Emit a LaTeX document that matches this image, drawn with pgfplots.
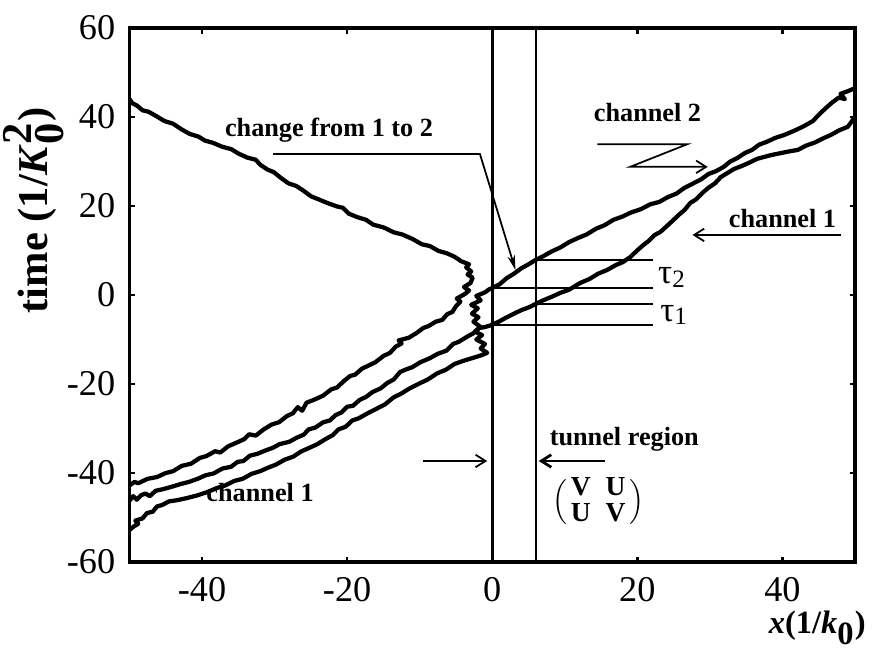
\documentclass[border=0pt]{standalone}
\usepackage{fontspec}
\setmainfont{Liberation Serif}
\usepackage{pgfplots}
\pgfplotsset{compat=1.18}
\usetikzlibrary{arrows.meta}

\begin{document}
\begin{tikzpicture}[x=1pt,y=1pt]
\useasboundingbox (-51.8,-37.2) rectangle (298.2,224.8);
\begin{axis}[
  at={(0,0)}, anchor=south west,
  scale only axis, width=290.2pt, height=213.6pt,
  xmin=-50, xmax=50, ymin=-60, ymax=60,
  clip=false,
  axis line style={line width=1.5pt},
  tick align=inside, major tick length=2.2pt,
  tick style={line width=1pt, black},
  xtick={-40,-20,0,20,40}, xticklabels={-40,-20,0,20,40},
  ytick={-60,-40,-20,0,20,40,60}, yticklabels={-60,-40,-20,0,20,40,60},
  tick label style={font=\fontsize{14.5}{16}\selectfont},
  xticklabel style={yshift=-2.5pt},
  yticklabel style={xshift=-2.2pt},
]
% tunnel region boundaries
\addplot[black, line width=1pt] coordinates {(0,-60) (0,60)};
\addplot[black, line width=1pt] coordinates {(6,-60) (6,60)};
% tau lines
\addplot[black, line width=0.7pt] coordinates {(6,7.9) (22.2,7.9)};
\addplot[black, line width=0.7pt] coordinates {(0,1.6) (22.2,1.6)};
\addplot[black, line width=0.7pt] coordinates {(6,-2.0) (22.2,-2.0)};
\addplot[black, line width=0.7pt] coordinates {(0,-6.7) (22.2,-6.7)};

% trajectory A (reflected)
\addplot[black, line width=1.7pt, line join=round] coordinates {
(-50,-42.8) (-49.3,-42.0) (-48.8,-42.3) (-47.5,-41.3) (-46.2,-40.9) (-45,-40.0) (-44,-39.6) (-42.8,-38.4) (-41.5,-37.9) (-40.3,-36.6) (-39.4,-36.2) (-38.2,-35.1) (-37.5,-35.4) (-36.4,-34.0) (-35,-33.0) (-34.2,-32.4) (-33.5,-31.3) (-32.6,-31.6) (-31.5,-30.2) (-30.4,-29.1) (-29.4,-28.6) (-28.3,-27.2) (-27.5,-26.6) (-26.8,-25.2) (-26.2,-26.0) (-25.6,-24.2) (-24.5,-23.5) (-23.3,-22.6) (-22.2,-21.2) (-21.4,-20.8) (-20.5,-19.4) (-19.6,-18.2) (-18.9,-17.9) (-18,-16.6) (-17,-15.8) (-16.1,-15.1) (-15,-13.7) (-14.1,-13.0) (-13.3,-11.6) (-12.5,-10.9) (-12.9,-10.2) (-11.5,-9.6) (-10.4,-8.5) (-9.5,-7.4) (-8.8,-7.0) (-7.8,-6.0) (-6.9,-5.6) (-6.2,-4.3) (-5.5,-3.8) (-5.0,-2.5) (-4.4,-1.5) (-4.9,-0.8) (-3.8,0.2) (-3.2,1.0) (-3.9,1.8) (-3.0,2.7) (-2.7,3.9) (-3.4,4.6) (-2.9,5.3) (-3.6,6.2) (-3.2,6.9) (-4.3,7.6) (-5.2,8.6) (-6.3,9.4) (-7.4,9.9) (-8.6,11.0) (-9.7,11.4) (-11.0,12.6) (-12.4,13.6) (-13.6,14.1) (-15.0,15.2) (-16.4,15.8) (-17.4,16.9) (-18.6,17.5) (-19.8,18.3) (-20.6,19.6) (-21.4,19.9) (-22.6,20.6) (-23.8,21.4) (-25.0,22.2) (-25.9,23.3) (-27.0,24.5) (-28.1,25.1) (-29.2,26.4) (-30.1,27.6) (-31.0,28.2) (-32.0,29.3) (-32.6,30.4) (-33.8,30.9) (-35.0,31.8) (-36.0,32.8) (-37.2,33.3) (-38.5,34.2) (-39.6,34.7) (-40.5,35.6) (-41.7,36.2) (-42.9,37.3) (-44.0,38.5) (-45.2,39.1) (-46.3,40.2) (-47.4,41.2) (-48.2,41.5) (-49.0,42.6) (-49.6,43.1) (-50,44.0)
};
% trajectory C (middle, transmitted, channel 1)
\addplot[black, line width=1.7pt, line join=round] coordinates {
(-50,-46.2) (-49.5,-45.2) (-49.0,-46.0) (-48.4,-45.0) (-47.8,-44.6) (-47.2,-45.2) (-46.4,-44.0) (-45.3,-43.6) (-44.2,-43.1) (-43.0,-42.5) (-41.8,-42.0) (-40.6,-41.3) (-39.5,-40.5) (-38.4,-40.1) (-37.2,-39.0) (-36.0,-38.6) (-35.1,-37.5) (-34.3,-37.3) (-33.4,-36.1) (-32.4,-35.7) (-31.2,-34.9) (-30.2,-34.3) (-29.3,-33.5) (-28.0,-33.0) (-27.0,-32.1) (-26.0,-31.4) (-25.3,-30.2) (-24.4,-29.8) (-23.3,-28.6) (-22.4,-28.2) (-21.6,-27.0) (-20.8,-26.4) (-20.0,-25.1) (-19.2,-24.9) (-18.3,-23.6) (-17.4,-22.9) (-16.5,-21.8) (-15.4,-21.0) (-14.5,-19.8) (-13.6,-19.0) (-12.7,-17.3) (-12.0,-16.8) (-11.0,-16.2) (-9.9,-15.1) (-8.6,-14.2) (-7.5,-13.2) (-6.3,-12.5) (-5.4,-11.0) (-4.6,-10.5) (-3.4,-9.3) (-2.6,-8.6) (-1.8,-7.4) (-1.0,-7.2) (0,-6.7) (1.0,-5.9) (2.0,-5.0) (3.0,-4.2) (4.0,-3.4) (5.0,-2.8) (6.0,-2.0) (7.0,-1.2) (8.2,-0.4) (9.4,0.5) (10.6,1.2) (12.1,2.7) (13.4,3.6) (14.6,4.8) (15.8,5.6) (17.0,6.7) (18.0,7.4) (19.0,8.5) (19.9,9.9) (20.8,11.2) (21.6,12.2) (22.4,13.5) (23.2,14.2) (24.0,15.4) (25.0,16.9) (25.7,18.0) (26.5,19.1) (27.3,20.7) (28.1,21.5) (29.0,23.0) (29.8,24.1) (30.7,25.1) (31.5,26.5) (32.4,27.4) (33.3,28.3) (34.4,29.0) (35.5,29.8) (36.5,30.6) (37.4,31.0) (38.6,31.5) (39.8,31.9) (41.0,32.3) (42.1,32.6) (43.3,33.6) (44.5,34.3) (45.6,35.2) (46.7,36.0) (47.8,37.0) (49.0,37.8) (49.5,38.9) (50,40.0)
};
% trajectory B (bottom, changes from channel 1 to 2)
\addplot[black, line width=1.7pt, line join=round] coordinates {
(-50,-52.8) (-49.4,-52.0) (-48.8,-51.4) (-49.2,-50.7) (-48.2,-50.2) (-47.6,-49.0) (-46.8,-48.7) (-46.2,-47.5) (-45.5,-47.2) (-44.6,-46.4) (-43.4,-46.1) (-42.0,-45.6) (-40.6,-45.0) (-39.3,-44.3) (-38.0,-43.4) (-36.8,-42.8) (-35.6,-41.8) (-34.4,-41.3) (-33.2,-40.2) (-32.0,-39.6) (-30.9,-38.8) (-29.8,-38.1) (-28.6,-37.0) (-27.4,-36.3) (-26.4,-35.2) (-25.3,-34.4) (-24.2,-33.6) (-23.0,-32.4) (-22.0,-31.5) (-21.2,-30.2) (-20.2,-29.6) (-19.3,-28.2) (-18.4,-27.7) (-17.2,-26.6) (-16.0,-25.6) (-14.8,-24.6) (-13.6,-23.0) (-12.6,-22.2) (-11.4,-21.0) (-10.2,-20.0) (-8.9,-19.0) (-7.6,-17.6) (-6.4,-16.8) (-5.2,-15.5) (-4.0,-14.8) (-2.8,-14.2) (-1.6,-13.6) (-0.7,-13.0) (-1.6,-12.0) (-1.0,-11.0) (-2.2,-10.0) (-1.4,-9.0) (-2.4,-8.2) (-1.6,-7.2) (-2.6,-6.0) (-1.9,-5.0) (-2.8,-4.2) (-2.0,-3.0) (-2.9,-2.2) (-1.6,-1.2) (-2.2,-0.2) (-1.0,0.6) (-0.5,1.2) (0,1.6) (1.0,2.4) (2.0,3.8) (3.0,4.8) (4.0,6.0) (5.0,6.9) (6.0,7.9) (7.0,8.7) (8.2,9.8) (9.4,10.7) (10.6,11.9) (11.8,12.8) (13.0,13.6) (14.3,14.9) (15.5,15.7) (16.7,16.9) (17.9,17.6) (19.2,18.6) (20.5,19.3) (21.8,20.4) (23.0,20.9) (24.2,22.0) (25.4,22.8) (26.5,24.1) (27.6,25.0) (28.8,26.0) (29.8,27.2) (30.8,27.8) (31.9,28.8) (32.8,30.0) (33.8,30.8) (34.8,31.9) (35.8,32.6) (36.8,33.8) (37.8,34.4) (39.0,35.3) (40.3,36.0) (41.6,36.9) (42.9,37.9) (44.2,39.1) (45.0,40.5) (45.9,41.9) (46.8,43.2) (47.8,44.4) (48.6,44.0) (48.0,45.2) (49.0,45.8) (50,46.5)
};

% annotations
\node[font=\bfseries\fontsize{10.5}{12}\selectfont] at (axis cs:-22.5,37.1) {change from 1 to 2};
\draw[line width=0.7pt, -{Stealth[length=6pt,width=3pt]}] (axis cs:-30.2,31.7) -- (axis cs:-1.7,31.7) -- (axis cs:3.2,5.6);

\node[font=\bfseries\fontsize{10.5}{12}\selectfont] at (axis cs:21.4,41.1) {channel 2};
\draw[line width=0.7pt, -{Straight Barb[length=4pt,width=5pt]}] (axis cs:14.5,33.9) -- (axis cs:26.9,33.9) -- (axis cs:19.0,28.8) -- (axis cs:29.7,28.8);

\node[font=\bfseries\fontsize{10.5}{12}\selectfont] at (axis cs:40,17.3) {channel 1};
\draw[line width=0.7pt, -{Straight Barb[length=4pt,width=5pt]}] (axis cs:48,13.5) -- (axis cs:27.6,13.5);

\node[font=\fontsize{14}{14}\selectfont] at (axis cs:24.7,4.0) {τ\raisebox{-1.5pt}{\fontsize{10}{10}\selectfont 2}};
\node[font=\fontsize{14}{14}\selectfont] at (axis cs:25.0,-4.5) {τ\raisebox{-1.5pt}{\fontsize{10}{10}\selectfont 1}};

\node[font=\bfseries\fontsize{10.5}{12}\selectfont, inner sep=1pt] at (axis cs:18.2,-32.4) {tunnel region};
\draw[line width=0.7pt, -{Straight Barb[length=4pt,width=5pt]}] (axis cs:-9.5,-37.3) -- (axis cs:-0.7,-37.3);
\draw[line width=1.1pt, -{Straight Barb[length=4pt,width=5pt]}] (axis cs:15.6,-37.3) -- (axis cs:6.4,-37.3);
\node[font=\bfseries\fontsize{11}{13}\selectfont, inner sep=0pt] at (axis cs:14.6,-46.5)
  {$\Big(\hspace{1.5pt}\begin{array}{@{}c@{\hspace{6pt}}c@{}}\textbf{V}&\textbf{U}\\[-2.5pt]\textbf{U}&\textbf{V}\end{array}\hspace{1.5pt}\Big)$};

\node[font=\bfseries\fontsize{10.5}{12}\selectfont] at (axis cs:-32,-44.3) {channel 1};

% axis labels
\node[rotate=90, font=\bfseries\fontsize{17}{19}\selectfont, inner sep=0pt] at (axis cs:-63.2,19) {time (1/\textit{K}$^{\textbf{2}}_{\textbf{0}}$)};
\node[font=\bfseries\fontsize{13}{15}\selectfont] at (axis cs:44.8,-74.8) {\textit{x}(1/\textit{k}$_{\textbf{0}}$)};
\end{axis}
\end{tikzpicture}
\end{document}
